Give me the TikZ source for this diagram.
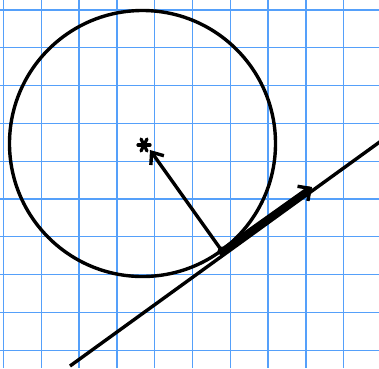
\documentclass[tikz,border=0pt]{standalone}
\usetikzlibrary{arrows.meta}
\definecolor{gridblue}{RGB}{85,160,250}
\begin{document}
\begin{tikzpicture}[x=1pt,y=-1pt,
  gridline/.style={draw=gridblue,line width=1.3pt},
  curve/.style={draw=black,line width=3.4pt},
  radarrow/.style={draw=black,line width=3.4pt,-{Straight Barb[length=10pt,width=16pt,line width=3.4pt]}},
  tanarrow/.style={draw=black,line width=6pt,line cap=round,-{Straight Barb[length=9pt,width=18pt,line width=3.4pt]}},
  starline/.style={draw=black,line width=3.2pt,line cap=round}]
\useasboundingbox (0,0) rectangle (379,368);
\clip (0,0) rectangle (379,368);
\fill[white] (0,0) rectangle (379,368);
\foreach \i in {0,...,9}{
  \draw[gridline] ({3.5+37.8*\i},0) -- ({3.5+37.8*\i},368);
  \draw[gridline] (0,{10+37.8*\i}) -- (379,{10+37.8*\i});
}
\coordinate (C) at (142.5,143.5);
\coordinate (P) at (222,251);
\coordinate (R) at (150,150);
\coordinate (T) at (312,187);
\coordinate (L1) at (70,366);
\coordinate (L2) at (381,141);
\draw[curve] (C) circle[radius=133];
\draw[curve] (L1) -- (L2);
\draw[radarrow] (P) -- (R);
\draw[tanarrow] (P) -- (T);
\fill[black] (P) circle[radius=4.5];
\draw[starline] (138,145) -- (150,145);
\draw[starline] (141,139) -- (147,151);
\draw[starline] (147,139) -- (141,151);
\end{tikzpicture}
\end{document}
